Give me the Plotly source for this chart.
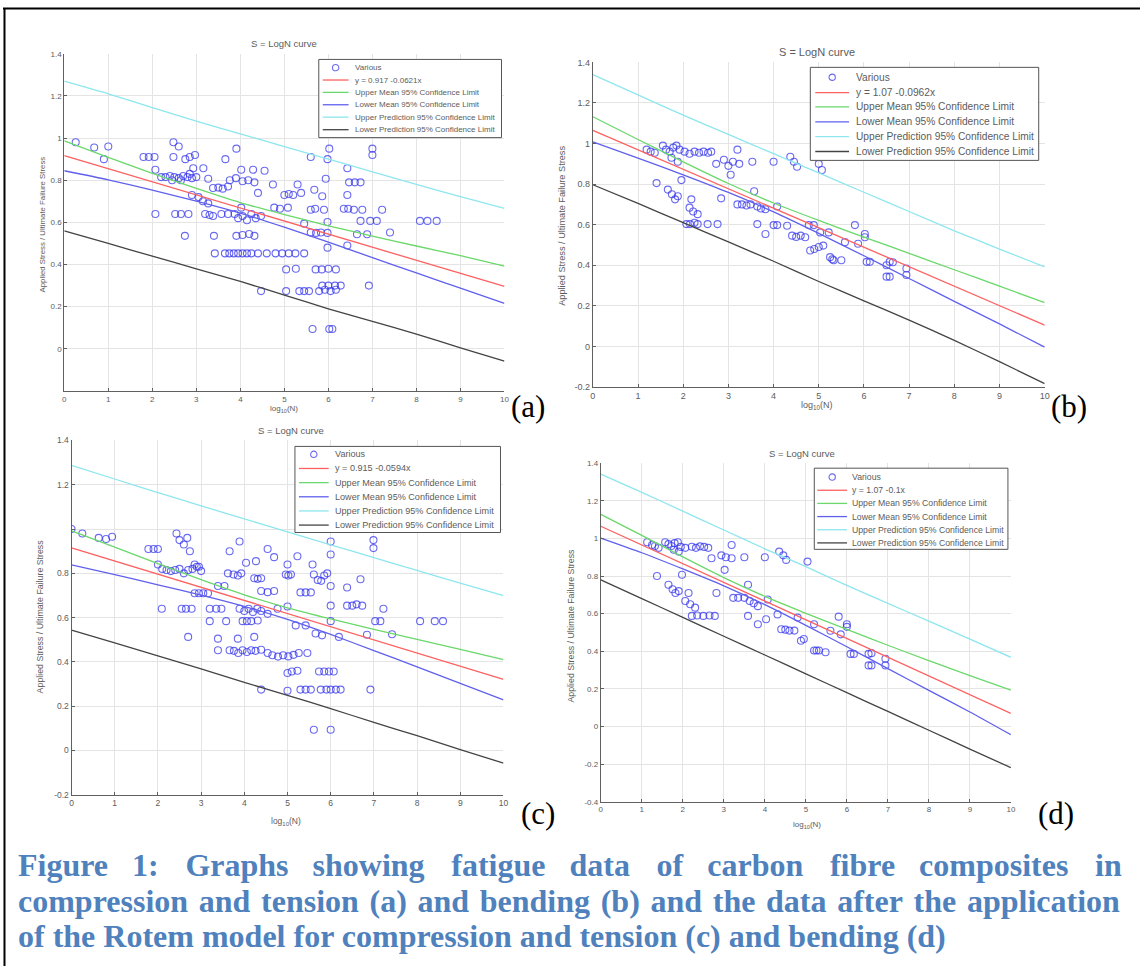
import plotly.graph_objects as go

W, H = 1145, 971

# ---------------- data ----------------
X_TICKS = [0, 1, 2, 3, 4, 5, 6, 7, 8, 9, 10]
BAND_X = [0, 1, 2, 3, 4, 5, 6, 7, 8, 9, 10]
FIT_X = [0, 10]

LEGEND_NAMES = ["Various", None, "Upper Mean 95% Confidence Limit", "Lower Mean 95% Confidence Limit",
                "Upper Prediction 95% Confidence Limit", "Lower Prediction 95% Confidence Limit"]

# ---- (a) compression and tension ----
a_eq = "y = 0.917 -0.0621x"
a_x = [0.26, 0.68, 1.00, 0.90, 1.80, 1.92, 2.05, 2.07,
       2.20, 2.30, 2.40, 2.50, 2.60, 2.70, 2.80, 2.90, 3.00, 2.45, 2.65, 2.85,
       2.48, 2.60, 2.48, 2.75, 2.85, 2.97, 2.93, 3.16, 3.27,
       3.38, 3.50, 3.60, 3.72, 3.66, 3.91, 3.76, 3.90, 4.05, 4.18, 4.32,
       4.02, 4.29, 4.55, 4.40, 4.74, 5.00, 5.10, 5.20, 5.38, 5.30, 5.68,
       5.60, 5.98, 6.02, 5.94, 5.86, 6.43, 6.47, 6.60, 6.73, 6.43, 7.00, 7.00,
       2.90, 3.05, 3.15, 3.27, 2.07, 2.52, 2.65, 2.82, 3.20, 3.30, 3.38, 3.57, 3.72,
       3.87, 3.95, 4.05, 4.15, 4.25, 4.35, 4.47, 4.02, 4.77, 4.90, 5.08,
       5.60, 5.70, 5.90, 6.35, 6.45, 6.58, 6.77, 7.22, 6.73, 6.95, 7.10, 5.98,
       8.08, 8.25, 8.46, 5.45, 2.74, 3.40, 3.91, 4.05, 4.20, 4.32,
       3.42, 3.65, 3.75, 3.85, 3.95, 4.05, 4.15, 4.25, 4.40, 4.60, 4.80, 4.95, 5.10, 5.25, 5.45,
       5.60, 5.72, 5.83, 5.98, 5.98, 6.43, 6.65, 6.88, 7.40,
       5.04, 5.26, 5.71, 5.85, 6.00, 6.17, 5.86, 6.00, 6.15, 6.28, 6.92,
       4.47, 5.04, 5.34, 5.45, 5.56, 5.79, 5.92, 6.05, 6.17, 5.64, 6.02, 6.09]
a_y = [0.98, 0.955, 0.96, 0.90, 0.91, 0.91, 0.91, 0.85,
       0.815, 0.815, 0.82, 0.815, 0.81, 0.82, 0.815, 0.81, 0.815, 0.80, 0.80, 0.83,
       0.98, 0.96, 0.91, 0.90, 0.91, 0.92, 0.857, 0.857, 0.807,
       0.763, 0.765, 0.76, 0.77, 0.90, 0.95, 0.80, 0.81, 0.795, 0.80, 0.79,
       0.85, 0.85, 0.845, 0.74, 0.78, 0.73, 0.735, 0.73, 0.74, 0.78, 0.755,
       0.91, 0.90, 0.95, 0.807, 0.724, 0.857, 0.79, 0.79, 0.79, 0.73, 0.95, 0.92,
       0.73, 0.72, 0.70, 0.69, 0.64, 0.64, 0.64, 0.64, 0.64, 0.635, 0.63, 0.64, 0.64,
       0.64, 0.62, 0.63, 0.61, 0.64, 0.62, 0.63, 0.67, 0.67, 0.665, 0.67,
       0.66, 0.665, 0.66, 0.665, 0.665, 0.66, 0.66, 0.66, 0.607, 0.607, 0.607, 0.602,
       0.607, 0.607, 0.607, 0.594, 0.536, 0.536, 0.536, 0.54, 0.545, 0.536,
       0.453, 0.453, 0.453, 0.453, 0.453, 0.453, 0.453, 0.453, 0.453, 0.453, 0.453, 0.453, 0.453, 0.453, 0.453,
       0.552, 0.55, 0.552, 0.55, 0.48, 0.49, 0.544, 0.544, 0.552,
       0.377, 0.38, 0.377, 0.377, 0.38, 0.377, 0.30, 0.30, 0.30, 0.30, 0.30,
       0.274, 0.274, 0.274, 0.274, 0.274, 0.274, 0.28, 0.274, 0.28, 0.094, 0.094, 0.094]
a_fit = [0.917, 0.296]
a_upper_mean = [0.987, 0.908, 0.833, 0.761, 0.694, 0.637, 0.584, 0.535, 0.488, 0.442, 0.393]
a_lower_mean = [0.845, 0.802, 0.753, 0.701, 0.644, 0.577, 0.506, 0.433, 0.360, 0.288, 0.216]
a_upper_pred = [1.270, 1.210, 1.145, 1.080, 1.020, 0.960, 0.900, 0.840, 0.780, 0.722, 0.667]
a_lower_pred = [0.560, 0.500, 0.440, 0.380, 0.320, 0.255, 0.190, 0.130, 0.070, 0.005, -0.058]

# ---- (b) bending ----
b_eq = "y = 1.07 -0.0962x"
b_x = [1.19, 1.28, 1.37, 1.55, 1.62, 1.70, 1.78, 1.85, 1.92, 2.03, 1.74, 1.88,
       2.14, 2.25, 2.35, 2.45, 2.55, 2.62, 2.73, 2.90, 3.00, 3.10, 3.24, 3.20, 3.05,
       3.53, 4.00, 4.37, 4.45, 4.52, 5.00, 5.07, 1.41, 1.66, 1.75, 1.82, 1.88, 1.96,
       2.18, 2.14, 2.22, 2.32, 2.07, 2.15, 2.25, 2.32, 2.54, 2.76, 2.84,
       3.20, 3.30, 3.40, 3.49, 3.57, 3.64, 3.72, 3.82, 4.08, 3.64, 3.82, 4.00, 4.08, 4.30,
       4.41, 4.50, 4.60, 4.70, 4.78, 4.89, 5.03, 4.81, 4.90, 5.00, 5.10, 5.22,
       5.25, 5.30, 5.33, 5.50, 5.58, 5.80, 5.87, 6.02, 6.02, 6.06, 6.13,
       6.50, 6.57, 6.64, 6.50, 6.57, 6.94, 6.94]
b_y = [0.97, 0.96, 0.955, 0.99, 0.97, 0.96, 0.98, 0.99, 0.97, 0.96, 0.93, 0.91,
       0.95, 0.96, 0.955, 0.96, 0.955, 0.96, 0.90, 0.92, 0.89, 0.91, 0.90, 0.97, 0.846,
       0.91, 0.91, 0.935, 0.91, 0.886, 0.90, 0.87, 0.805, 0.773, 0.75, 0.725, 0.74, 0.82,
       0.725, 0.684, 0.665, 0.652, 0.603, 0.603, 0.61, 0.603, 0.603, 0.603, 0.73,
       0.70, 0.70, 0.695, 0.70, 0.765, 0.69, 0.68, 0.676, 0.69, 0.603, 0.554, 0.598, 0.598, 0.595,
       0.546, 0.54, 0.546, 0.538, 0.598, 0.598, 0.562, 0.473, 0.48, 0.49, 0.497, 0.562,
       0.44, 0.43, 0.425, 0.425, 0.514, 0.598, 0.506, 0.554, 0.538, 0.417, 0.417,
       0.40, 0.417, 0.415, 0.344, 0.344, 0.384, 0.352]
b_fit = [1.065, 0.105]
b_upper_mean = [1.132, 1.020, 0.910, 0.803, 0.707, 0.621, 0.539, 0.459, 0.378, 0.297, 0.216]
b_lower_mean = [1.008, 0.928, 0.846, 0.759, 0.663, 0.557, 0.447, 0.335, 0.222, 0.111, -0.003]
b_upper_pred = [1.340, 1.240, 1.140, 1.045, 0.950, 0.855, 0.760, 0.665, 0.570, 0.480, 0.392]
b_lower_pred = [0.797, 0.705, 0.610, 0.515, 0.420, 0.320, 0.225, 0.130, 0.030, -0.075, -0.183]

# ---- (c) compression and tension, Rotem model ----
c_eq = "y = 0.915 -0.0594x"
c_x = [0.00, 0.25, 0.63, 0.80, 0.94, 1.78, 1.90, 2.00, 2.00,
       2.10, 2.20, 2.30, 2.40, 2.50, 2.60, 2.70, 2.80, 2.90, 3.00, 2.85, 2.95,
       2.43, 2.50, 2.60, 2.68, 2.74, 2.85, 2.95, 3.05, 3.16, 3.39, 3.54,
       3.66, 3.89, 3.62, 3.75, 3.85, 3.93, 4.04, 4.27, 4.23, 4.31, 4.39, 4.54, 4.69,
       4.39, 4.54, 4.69, 4.96, 5.02, 5.08, 5.00, 5.23, 5.30, 5.42, 5.54, 5.58,
       5.61, 5.70, 5.78, 5.85, 5.92, 6.00, 6.00, 6.00, 6.38, 6.69, 6.99, 6.99,
       6.00, 6.38, 6.50, 6.60, 6.73, 7.22, 2.09, 2.55, 2.65, 2.78, 3.20, 3.35, 3.47,
       3.89, 4.00, 4.10, 4.20, 4.30, 4.39, 4.54, 4.77, 5.00, 3.20, 3.58, 3.96, 4.06, 4.16, 4.31,
       5.19, 5.42, 6.00, 7.03, 7.15, 8.07, 8.41, 8.60, 5.65, 5.80, 6.19, 6.84, 7.42,
       2.70, 3.39, 3.85, 4.23, 3.39, 3.66, 3.76, 3.86, 3.96, 4.06, 4.16, 4.26, 4.39,
       4.54, 4.65, 4.78, 4.90, 5.02, 5.14, 5.26, 5.46, 5.00, 5.10, 5.23, 5.73, 5.85, 5.96, 6.07,
       4.39, 5.00, 5.30, 5.42, 5.54, 5.77, 5.90, 6.00, 6.12, 6.23, 6.92, 5.61, 6.00]
c_y = [1.00, 0.98, 0.96, 0.955, 0.965, 0.91, 0.91, 0.91, 0.84,
       0.82, 0.815, 0.81, 0.815, 0.82, 0.80, 0.815, 0.82, 0.83, 0.81, 0.84, 0.83,
       0.98, 0.95, 0.93, 0.96, 0.90, 0.71, 0.71, 0.71, 0.71, 0.743, 0.743,
       0.90, 0.944, 0.80, 0.795, 0.79, 0.80, 0.848, 0.855, 0.778, 0.775, 0.778, 0.91, 0.873,
       0.72, 0.715, 0.72, 0.795, 0.79, 0.795, 0.84, 0.877, 0.714, 0.714, 0.714, 0.84,
       0.795, 0.77, 0.766, 0.79, 0.80, 0.944, 0.885, 0.743, 0.736, 0.773, 0.95, 0.914,
       0.654, 0.654, 0.654, 0.66, 0.654, 0.64, 0.64, 0.64, 0.64, 0.64, 0.64, 0.64, 0.64,
       0.64, 0.63, 0.64, 0.625, 0.64, 0.63, 0.617, 0.64, 0.65, 0.584, 0.584, 0.584, 0.584, 0.584, 0.587,
       0.565, 0.565, 0.584, 0.584, 0.584, 0.584, 0.584, 0.584, 0.528, 0.52, 0.513, 0.523, 0.525,
       0.513, 0.505, 0.505, 0.513, 0.453, 0.453, 0.45, 0.44, 0.453, 0.445, 0.453, 0.45, 0.455,
       0.44, 0.43, 0.424, 0.43, 0.425, 0.432, 0.44, 0.44, 0.35, 0.357, 0.36, 0.357, 0.357, 0.357, 0.357,
       0.275, 0.27, 0.275, 0.275, 0.275, 0.275, 0.275, 0.275, 0.275, 0.275, 0.275, 0.094, 0.094]
c_fit = [0.915, 0.321]
c_upper_mean = [0.992, 0.918, 0.844, 0.772, 0.703, 0.644, 0.594, 0.547, 0.502, 0.457, 0.410]
c_lower_mean = [0.838, 0.794, 0.748, 0.702, 0.651, 0.592, 0.524, 0.451, 0.378, 0.303, 0.229]
c_upper_pred = [1.287, 1.226, 1.165, 1.105, 1.046, 0.987, 0.929, 0.871, 0.813, 0.756, 0.699]
c_lower_pred = [0.543, 0.486, 0.427, 0.369, 0.308, 0.249, 0.189, 0.127, 0.067, 0.004, -0.057]

# ---- (d) bending, Rotem model ----
d_eq = "y = 1.07 -0.1x"
d_x = [1.13, 1.25, 1.32, 1.41, 1.57, 1.65, 1.72, 1.80, 1.88, 1.95, 2.06, 1.78, 1.90,
       2.22, 2.32, 2.42, 2.52, 2.62, 2.70, 2.94, 3.05, 3.19, 3.19, 3.50, 4.00,
       4.35, 4.45, 4.52, 5.04, 3.02, 1.37, 1.65, 1.75, 1.82, 1.90, 1.98, 2.14,
       2.06, 2.18, 2.30, 2.22, 2.35, 2.50, 2.65, 2.78, 2.82, 3.23, 3.35, 3.50, 3.59,
       3.63, 3.73, 3.83, 4.07, 3.59, 3.83, 4.03, 4.31, 4.40, 4.50, 4.60, 4.72, 4.80,
       4.88, 4.95, 5.20, 5.20, 5.26, 5.32, 5.48, 5.60, 5.80, 5.85, 6.00, 6.00,
       6.09, 6.17, 6.53, 6.60, 6.53, 6.60, 6.94, 6.94]
d_y = [0.98, 0.965, 0.96, 0.95, 0.98, 0.97, 0.96, 0.975, 0.98, 0.955, 0.95, 0.94, 0.93,
       0.956, 0.95, 0.958, 0.955, 0.95, 0.895, 0.91, 0.90, 0.895, 0.965, 0.90, 0.90,
       0.93, 0.91, 0.886, 0.877, 0.833, 0.80, 0.754, 0.73, 0.71, 0.72, 0.807, 0.71,
       0.667, 0.65, 0.632, 0.588, 0.59, 0.588, 0.59, 0.588, 0.71, 0.684, 0.684, 0.684, 0.754,
       0.667, 0.655, 0.64, 0.675, 0.588, 0.544, 0.57, 0.596, 0.517, 0.515, 0.51, 0.51, 0.579,
       0.456, 0.465, 0.544, 0.404, 0.404, 0.404, 0.395, 0.509, 0.584, 0.49, 0.544, 0.53,
       0.386, 0.386, 0.386, 0.39, 0.325, 0.325, 0.36, 0.325]
d_fit = [1.065, 0.070]
d_upper_mean = [1.128, 1.016, 0.902, 0.792, 0.692, 0.602, 0.516, 0.432, 0.350, 0.270, 0.193]
d_lower_mean = [1.002, 0.924, 0.838, 0.748, 0.648, 0.538, 0.424, 0.308, 0.192, 0.077, -0.044]
d_upper_pred = [1.342, 1.245, 1.145, 1.045, 0.945, 0.850, 0.750, 0.655, 0.560, 0.465, 0.368]
d_lower_pred = [0.780, 0.680, 0.580, 0.480, 0.380, 0.280, 0.180, 0.080, -0.020, -0.120, -0.219]

Y_TICKS_A = [0, 0.2, 0.4, 0.6, 0.8, 1, 1.2, 1.4]
Y_TICKS_B = [-0.2, 0, 0.2, 0.4, 0.6, 0.8, 1, 1.2, 1.4]
Y_TICKS_C = [-0.2, 0, 0.2, 0.4, 0.6, 0.8, 1, 1.2, 1.4]
Y_TICKS_D = [-0.4, -0.2, 0, 0.2, 0.4, 0.6, 0.8, 1, 1.2, 1.4]

CAPTION = ["Figure 1: Graphs showing fatigue data of carbon fibre composites in",
           "compression and tension (a) and bending (b) and the data after the application",
           "of the Rotem model for compression and tension (c) and bending (d)"]

# ---------------- styling ----------------
C_MARK = "rgba(50,50,235,0.72)"
C_RED = "#ff6060"
C_GREEN = "#6ad86a"
C_BLUE = "#6060ee"
C_CYAN = "#8ee6ee"
C_BLACK = "#444444"
LINE_COLORS = [C_RED, C_GREEN, C_BLUE, C_CYAN, C_BLACK]
TXT = "#5c5c5c"
SANS = "Liberation Sans, Arial, sans-serif"
SERIF = "Liberation Serif, Times New Roman, serif"


def fx(p):
    return p / W


def fy(p):
    return 1 - p / H


def tick_label(v):
    s = ("%.1f" % v)
    if s.endswith(".0"):
        s = s[:-2]
    if s == "-0":
        s = "0"
    return s


fig = go.Figure()
shapes = []
annotations = []

panels = [
    dict(key="", x=a_x, y=a_y, fit=a_fit, bands=[a_upper_mean, a_lower_mean, a_upper_pred, a_lower_pred],
         eq=a_eq, dom=(61.7, 505, 49.3, 390), yr=(-0.2, 1.4), yt=Y_TICKS_A, hide=[],
         tfs=8, title=(283, 39, 9.5), xt=(283, 408, 8), yti=(40, 222, 7.8),
         leg=dict(box=(318, 55, 502, 134), rows=[63.3, 75.8, 88.3, 100.8, 113.3, 126], sw=(322, 348), tx=352, fs=8.0),
         lab=("(a)", 510, 406)),
    dict(key="2", x=b_x, y=b_y, fit=b_fit, bands=[b_upper_mean, b_lower_mean, b_upper_pred, b_lower_pred],
         eq=b_eq, dom=(594, 1049, 58, 386), yr=(-0.2, 1.4), yt=Y_TICKS_B, hide=[],
         tfs=9, title=(820, 47, 11), xt=(820, 405, 9), yti=(563, 223, 9.2),
         leg=dict(box=(813, 63, 1043, 157), rows=[73, 88.5, 103, 118, 133, 148], sw=(818, 852), tx=857, fs=10.2),
         lab=("(b)", 1053, 406)),
    dict(key="3", x=c_x, y=c_y, fit=c_fit, bands=[c_upper_mean, c_lower_mean, c_upper_pred, c_lower_pred],
         eq=c_eq, dom=(69, 504, 440, 798), yr=(-0.2, 1.4), yt=Y_TICKS_C, hide=[1],
         tfs=8.5, title=(290, 430, 9.5), xt=(285, 825, 8.5), yti=(37, 618, 8.8),
         leg=dict(box=(294, 446, 501, 533), rows=[454, 468.3, 482.6, 496.9, 511.2, 525.5], sw=(298, 328), tx=332, fs=9.1),
         lab=("(c)", 520, 817)),
    dict(key="4", x=d_x, y=d_y, fit=d_fit, bands=[d_upper_mean, d_lower_mean, d_upper_pred, d_lower_pred],
         eq=d_eq, dom=(602, 1015, 463, 805), yr=(-0.4, 1.4), yt=Y_TICKS_D, hide=[],
         tfs=8, title=(805, 453, 9.5), xt=(810, 829, 8), yti=(572, 627, 8.8),
         leg=dict(box=(817, 468, 1012, 550), rows=[477, 490.3, 503.6, 516.9, 530.2, 543.5], sw=(820, 850), tx=853, fs=8.7),
         lab=("(d)", 1040, 817)),
]

layout_axes = {}
for p in panels:
    k = p["key"]
    xa, ya = "x" + k, "y" + k
    assert len(p["x"]) == len(p["y"]), (k, len(p["x"]), len(p["y"]))
    fig.add_trace(go.Scatter(x=p["x"], y=p["y"], mode="markers", xaxis=xa, yaxis=ya, showlegend=False,
                             marker=dict(symbol="circle-open", size=7, color=C_MARK, line=dict(width=1.1))))
    fig.add_trace(go.Scatter(x=FIT_X, y=p["fit"], mode="lines", xaxis=xa, yaxis=ya, showlegend=False,
                             line=dict(color=C_RED, width=1.3)))
    for band, col in zip(p["bands"], LINE_COLORS[1:]):
        fig.add_trace(go.Scatter(x=BAND_X, y=band, mode="lines", xaxis=xa, yaxis=ya, showlegend=False,
                                 line=dict(color=col, width=1.3, shape="spline", smoothing=0.6)))
    x0, x1, yt0, yb1 = p["dom"]
    yticktext = [" " if v in p["hide"] else tick_label(v) for v in p["yt"]]
    common = dict(showgrid=True, gridcolor="#e4e4e4", gridwidth=1, showline=True, linecolor="#606060",
                  linewidth=1, ticks="inside", ticklen=3, tickcolor="#606060", zeroline=False,
                  tickfont=dict(family=SANS, size=p["tfs"], color=TXT), fixedrange=True)
    layout_axes["xaxis" + k] = dict(domain=[fx(x0), fx(x1)], anchor=ya, range=[0, 10],
                                    tickvals=X_TICKS, ticktext=[str(v) for v in X_TICKS], **common)
    layout_axes["yaxis" + k] = dict(domain=[fy(yb1), fy(yt0)], anchor=xa, range=list(p["yr"]),
                                    tickvals=p["yt"], ticktext=yticktext, **common)
    # title
    tx_, ty_, tfs_ = p["title"]
    annotations.append(dict(x=fx(tx_), y=fy(ty_), xref="paper", yref="paper", text="S = LogN curve",
                            showarrow=False, xanchor="center", yanchor="middle",
                            font=dict(family=SANS, size=tfs_, color=TXT)))
    # axis titles
    xtx, xty, xtf = p["xt"]
    annotations.append(dict(x=fx(xtx), y=fy(xty), xref="paper", yref="paper",
                            text="log<sub>10</sub>(N)", showarrow=False, xanchor="center", yanchor="middle",
                            font=dict(family=SANS, size=xtf, color=TXT)))
    yx, yy, yfs = p["yti"]
    annotations.append(dict(x=fx(yx), y=fy(yy), xref="paper", yref="paper", textangle=-90,
                            text="Applied Stress / Ultimate Failure Stress", showarrow=False,
                            xanchor="center", yanchor="middle", font=dict(family=SANS, size=yfs, color=TXT)))
    # legend (drawn by hand)
    L = p["leg"]
    bx0, by0, bx1, by1 = L["box"]
    shapes.append(dict(type="rect", xref="paper", yref="paper", x0=fx(bx0), x1=fx(bx1), y0=fy(by1), y1=fy(by0),
                       line=dict(color="#555555", width=1), fillcolor="white", layer="above"))
    names = [LEGEND_NAMES[0], p["eq"]] + LEGEND_NAMES[2:]
    sx0, sx1 = L["sw"]
    for i, (nm, ry) in enumerate(zip(names, L["rows"])):
        if i == 0:
            cx = (sx0 + sx1) / 2
            r = 3.2
            shapes.append(dict(type="circle", xref="paper", yref="paper", x0=fx(cx - r), x1=fx(cx + r),
                               y0=fy(ry + r), y1=fy(ry - r), line=dict(color=C_MARK, width=1.1), layer="above"))
        else:
            shapes.append(dict(type="line", xref="paper", yref="paper", x0=fx(sx0), x1=fx(sx1), y0=fy(ry), y1=fy(ry),
                               line=dict(color=LINE_COLORS[i - 1], width=1.3), layer="above"))
        annotations.append(dict(x=fx(L["tx"]), y=fy(ry), xref="paper", yref="paper", text=nm, showarrow=False,
                                xanchor="left", yanchor="middle", font=dict(family=SANS, size=L["fs"], color=TXT)))
    # panel letter
    lt, lx, ly = p["lab"]
    annotations.append(dict(x=fx(lx), y=fy(ly), xref="paper", yref="paper", text=lt, showarrow=False,
                            xanchor="left", yanchor="middle", font=dict(family=SERIF, size=31, color="black")))

# caption (first two lines justified with extra spacing)
NB = "\u00a0"
HAIR = "\u200a"
w1 = CAPTION[0].split(" ")
line1 = w1[0]
for i, w in enumerate(w1[1:]):
    line1 += (NB * 3 + (HAIR if i % 2 == 1 else "")) + w
cap_lines = [line1,
             (NB + HAIR).join(CAPTION[1].split(" ")),
             CAPTION[2]]
for line, cy in zip(cap_lines, [869, 905, 941]):
    annotations.append(dict(x=fx(13), y=fy(cy), xref="paper", yref="paper", text="<b>" + line + "</b>",
                            showarrow=False, xanchor="left", yanchor="middle",
                            font=dict(family=SERIF, size=32, color="#4f81bd")))

# page frame
shapes.append(dict(type="line", xref="paper", yref="paper", x0=0, x1=1, y0=fy(3.5), y1=fy(3.5),
                   line=dict(color="black", width=2), layer="above"))
shapes.append(dict(type="line", xref="paper", yref="paper", x0=fx(1.5), x1=fx(1.5), y0=0, y1=fy(3.5),
                   line=dict(color="black", width=2), layer="above"))

fig.update_layout(width=W, height=H, autosize=False, margin=dict(l=0, r=0, t=0, b=0),
                  paper_bgcolor="white", plot_bgcolor="white", showlegend=False,
                  shapes=shapes, annotations=annotations, **layout_axes)

fig.write_html("out.html", config={"displayModeBar": False},
               post_script="document.body.style.margin='0';document.body.style.overflow='hidden';")
